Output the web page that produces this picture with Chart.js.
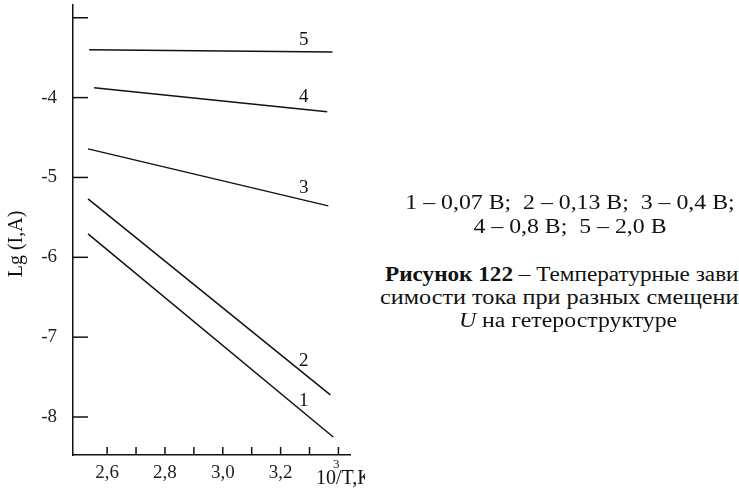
<!DOCTYPE html>
<html>
<head>
<meta charset="utf-8">
<script src="https://cdn.jsdelivr.net/npm/chart.js@4.4.1/dist/chart.umd.min.js"></script>
<style>
  html, body { margin: 0; padding: 0; background: #fff; }
  body { width: 739px; height: 495px; position: relative; overflow: hidden; }
  #wrap { position: absolute; left: 0; top: 0; width: 365px; height: 495px; overflow: hidden; }
  .ln {
    position: absolute; font-family: "Liberation Serif", "DejaVu Serif", serif; font-size: 20px;
    color: #111; white-space: nowrap; line-height: 1;
  }
  .c { left: 370px; width: 400px; text-align: center; transform: scaleX(1.19); transform-origin: 200px 50%; }
  .l { transform-origin: 0 50%; }
</style>
</head>
<body>
<div id="wrap"><canvas id="c"></canvas></div>
<div class="ln c" style="top:192px">1 – 0,07 В;&nbsp; 2 – 0,13 В;&nbsp; 3 – 0,4 В;</div>
<div class="ln c" style="top:216px">4 – 0,8 В;&nbsp; 5 – 2,0 В</div>
<div class="ln l" style="top:264px; left:385px; transform:scaleX(1.16)"><b>Рисунок 122</b> – Температурные зави-</div>
<div class="ln l" style="top:287px; left:380px; transform:scaleX(1.21)">симости тока при разных смещениях</div>
<div class="ln c" style="top:310px; left:368px"><i>U</i> на гетероструктуре</div>
<script>
// curves 1..5, lg(I) vs 10^3/T
const curveNames = ["1", "2", "3", "4", "5"];
const xStart = [2.534, 2.534, 2.534, 2.555, 2.538];
const xEnd = [3.382, 3.372, 3.365, 3.361, 3.379];
const yStart = [-5.707, -5.268, -4.642, -3.877, -3.40];
const yEnd = [-8.25, -7.724, -5.356, -4.178, -3.43];

const xTicks = [2.6, 2.7, 2.8, 2.9, 3.0, 3.1, 3.2, 3.3, 3.4];
const xTickLabels = { "2.6": "2,6", "2.8": "2,8", "3.0": "3,0", "3.2": "3,2" };
const yTicks = [-8, -7, -6, -5, -4, -3];
const yTickLabels = { "-8": "-8", "-7": "-7", "-6": "-6", "-5": "-5", "-4": "-4" };
const labelAtX = 3.28;

const serif = "'Liberation Serif', 'DejaVu Serif', serif";
const ink = "#111";

const datasets = curveNames.map((name, i) => ({
  label: name,
  data: [{ x: xStart[i], y: yStart[i] }, { x: xEnd[i], y: yEnd[i] }],
  borderColor: ink,
  borderWidth: 1.5,
  pointRadius: 0,
  fill: false,
  tension: 0
}));

// inner tick marks, curve numbers and axis titles
const decor = {
  id: "decor",
  afterDraw(chart) {
    const { ctx, chartArea, scales } = chart;
    const xs = scales.x, ys = scales.y;
    ctx.save();
    ctx.strokeStyle = ink;
    ctx.lineWidth = 1.5;
    xTicks.forEach(v => {
      const px = xs.getPixelForValue(v);
      ctx.beginPath();
      ctx.moveTo(px, chartArea.bottom);
      ctx.lineTo(px, chartArea.bottom - 8);
      ctx.stroke();
    });
    yTicks.forEach(v => {
      const py = ys.getPixelForValue(v);
      ctx.beginPath();
      ctx.moveTo(chartArea.left, py);
      ctx.lineTo(chartArea.left + 15, py);
      ctx.stroke();
    });

    ctx.fillStyle = ink;
    ctx.font = "19px " + serif;
    ctx.textAlign = "center";
    ctx.textBaseline = "middle";
    curveNames.forEach((name, i) => {
      const t = (labelAtX - xStart[i]) / (xEnd[i] - xStart[i]);
      const yv = yStart[i] + t * (yEnd[i] - yStart[i]);
      ctx.fillText(name, xs.getPixelForValue(labelAtX), ys.getPixelForValue(yv) - 12);
    });

    // y title
    ctx.save();
    ctx.translate(17, 244);
    ctx.rotate(-Math.PI / 2);
    ctx.font = "20px " + serif;
    ctx.fillText("Lg (I,A)", 0, 0);
    ctx.restore();

    // x title
    ctx.textAlign = "left";
    ctx.textBaseline = "alphabetic";
    ctx.font = "20px " + serif;
    ctx.fillText("10", 316, 484);
    const w = ctx.measureText("10").width;
    ctx.fillText("/T,К", 316 + w, 484);
    ctx.font = "13px " + serif;
    ctx.fillText("3", 316 + w - 3, 468);
    ctx.restore();
  }
};

const noPad = s => { s.paddingTop = 0; s.paddingBottom = 0; s.paddingLeft = 0; s.paddingRight = 0; };

new Chart(document.getElementById("c"), {
  type: "line",
  data: { datasets },
  options: {
    responsive: true,
    maintainAspectRatio: false,
    animation: false,
    layout: { autoPadding: false, padding: { top: 5, right: 15, left: 0, bottom: 0 } },
    plugins: { legend: { display: false }, tooltip: { enabled: false } },
    scales: {
      x: {
        type: "linear",
        min: 2.482,
        max: 3.44,
        afterBuildTicks: s => { s.ticks = xTicks.map(v => ({ value: v })); },
        afterFit: s => { s.height = 40; noPad(s); },
        grid: { display: false, drawTicks: false },
        border: { display: true, color: ink, width: 1.5 },
        ticks: {
          autoSkip: false,
          maxRotation: 0,
          padding: 7,
          color: "#222",
          font: { family: serif, size: 19 },
          callback: v => xTickLabels[v.toFixed(1)] || ""
        }
      },
      y: {
        min: -8.476,
        max: -2.84,
        afterBuildTicks: s => { s.ticks = yTicks.map(v => ({ value: v })); },
        afterFit: s => { s.width = 73; noPad(s); },
        grid: { display: false, drawTicks: false },
        border: { display: true, color: ink, width: 1.5 },
        ticks: {
          autoSkip: false,
          padding: 16,
          color: "#222",
          font: { family: serif, size: 19 },
          callback: v => yTickLabels[String(Math.round(v))] || ""
        }
      }
    }
  },
  plugins: [decor]
});
</script>
</body>
</html>
